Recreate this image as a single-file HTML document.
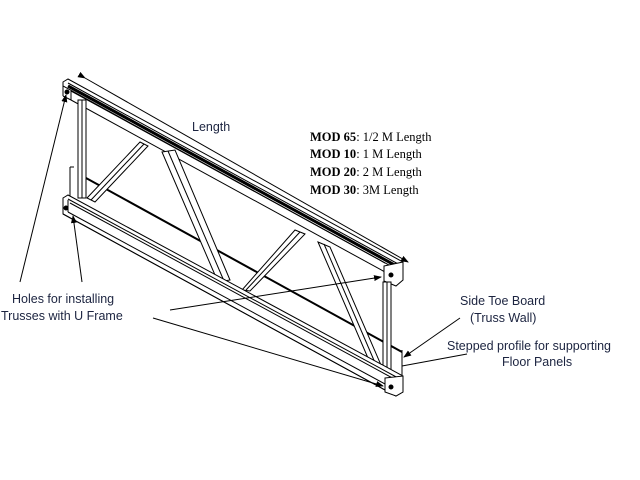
<!DOCTYPE html>
<html><head><style>
html,body{margin:0;padding:0;background:#fff;}
svg{display:block}
.s{font-family:"Liberation Sans",sans-serif;font-size:12.5px;fill:#1c2440}
.m{font-family:"Liberation Serif",serif;font-size:12.5px;fill:#000}
</style></head><body>
<svg width="640" height="480" viewBox="0 0 640 480" xmlns="http://www.w3.org/2000/svg">
<defs>
<marker id="a" markerWidth="8" markerHeight="6" refX="7" refY="3" orient="auto" markerUnits="userSpaceOnUse"><path d="M0,0 L8,3 L0,6 z" fill="#000"/></marker>
</defs>
<g stroke="#000" fill="none" stroke-width="1">
<line x1="70" y1="167" x2="70" y2="196"/>
<line x1="70" y1="167" x2="74" y2="167"/>
<line x1="86" y1="178" x2="402" y2="352" stroke-width="2"/>
<line x1="402" y1="350" x2="402" y2="378"/>
<polygon points="63,82 68,79 403,262 403,266 398,270 63,86" fill="#fff"/>
<line x1="63" y1="82" x2="63" y2="96"/>
<line x1="63" y1="96" x2="71" y2="100"/>
<line x1="68" y1="83" x2="400" y2="265"/>
<line x1="68" y1="86" x2="400" y2="268" stroke-width="3"/>
<line x1="71" y1="100" x2="385" y2="272"/>
<line x1="71" y1="91" x2="71" y2="100"/>
<line x1="71" y1="91" x2="385" y2="263"/>
<polygon points="384,266 403,262 403,280 396,286 384,281" fill="#fff"/>
<circle cx="391" cy="275" r="2" fill="#000"/>
<circle cx="67" cy="92" r="2" fill="#000"/>
<rect x="78" y="100" width="8" height="98" fill="#fff"/>
<line x1="82" y1="100" x2="82" y2="198"/>
<rect x="383" y="282" width="8" height="92" fill="#fff"/>
<line x1="387" y1="282" x2="387" y2="374"/>
<polygon points="140,142 148,146 95,202 87,198" fill="#fff"/>
<line x1="144" y1="144" x2="91" y2="200"/>
<polygon points="162,152 175,150 230,280 218,282" fill="#fff"/>
<line x1="168" y1="151" x2="224" y2="281"/>
<polygon points="295,230 305,234 250,291 242,290" fill="#fff"/>
<line x1="300" y1="232" x2="246" y2="290"/>
<polygon points="318,242 330,247 384,372 374,372" fill="#fff"/>
<line x1="324" y1="244" x2="379" y2="372"/>
<polygon points="63,198 68,195 403,376 403,392 396,396 63,214" fill="#fff"/>
<line x1="68" y1="199" x2="400" y2="379"/>
<line x1="70" y1="203" x2="398" y2="381"/>
<line x1="63" y1="214" x2="396" y2="396"/>
<line x1="68" y1="212" x2="385" y2="384"/>
<line x1="63" y1="198" x2="63" y2="214"/>
<line x1="68" y1="200" x2="68" y2="212"/>
<polygon points="385,378 403,376 403,392 396,396 385,392" fill="#fff"/>
<circle cx="391" cy="387" r="2" fill="#000"/>
<circle cx="66" cy="208" r="2" fill="#000"/>
<line x1="85" y1="78" x2="408" y2="262" marker-start="url(#a)" marker-end="url(#a)"/>
<line x1="20" y1="282" x2="66" y2="95" marker-end="url(#a)"/>
<line x1="82" y1="282" x2="73" y2="216" marker-end="url(#a)"/>
<line x1="170" y1="310" x2="381" y2="277" marker-end="url(#a)"/>
<line x1="153" y1="318" x2="383" y2="386" marker-end="url(#a)"/>
<line x1="460" y1="318" x2="404" y2="357" marker-end="url(#a)"/>
<line x1="467" y1="354" x2="402" y2="366"/>
</g>
<text class="s" x="192" y="131">Length</text>
<text class="m" x="310" y="141"><tspan font-weight="bold">MOD 65</tspan>: 1/2 M Length</text>
<text class="m" x="310" y="158"><tspan font-weight="bold">MOD 10</tspan>: 1  M Length</text>
<text class="m" x="310" y="176"><tspan font-weight="bold">MOD 20</tspan>: 2 M Length</text>
<text class="m" x="310" y="194"><tspan font-weight="bold">MOD 30</tspan>: 3M Length</text>
<text class="s" x="12" y="303">Holes for installing</text>
<text class="s" x="1" y="320">Trusses with U Frame</text>
<text class="s" x="460" y="305">Side Toe Board</text>
<text class="s" x="470" y="322">(Truss Wall)</text>
<text class="s" x="447" y="350">Stepped profile for supporting</text>
<text class="s" x="502" y="366">Floor Panels</text>
</svg>
</body></html>
